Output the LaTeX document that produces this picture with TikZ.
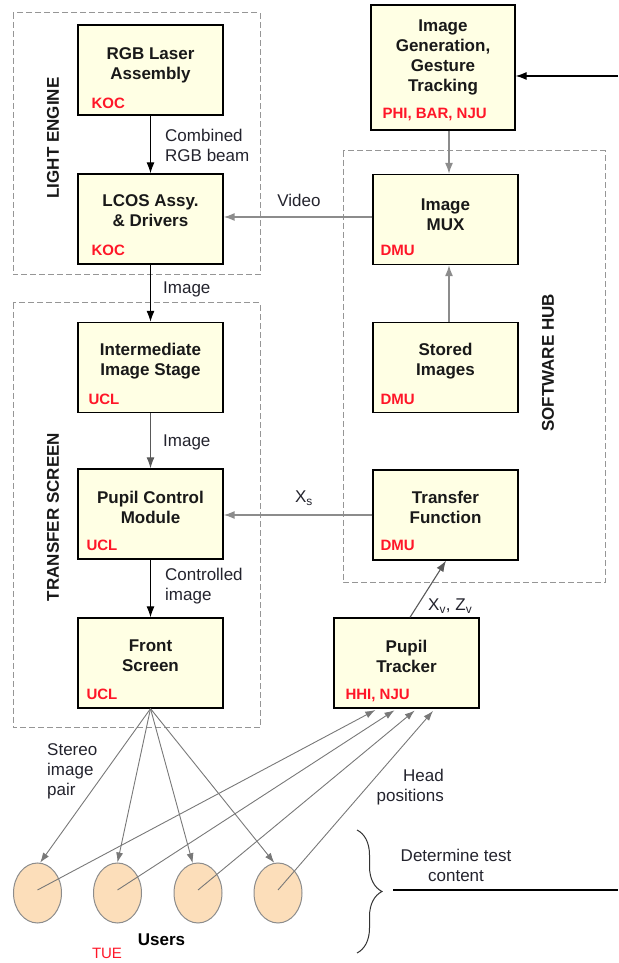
\documentclass[tikz,border=0pt]{standalone}
\usepackage{fontspec}
\setmainfont{Liberation Sans}
\usetikzlibrary{arrows.meta,decorations.pathreplacing,shapes.geometric}

\definecolor{boxfill}{RGB}{255,255,228}
\definecolor{userfill}{RGB}{252,222,186}
\definecolor{usergray}{RGB}{140,140,140}
\definecolor{orgred}{RGB}{255,22,40}
\definecolor{grpgray}{RGB}{150,150,150}
\definecolor{flowgray}{RGB}{140,140,140}
\definecolor{fangray}{RGB}{120,120,120}
\definecolor{labelc}{RGB}{35,35,45}

\begin{document}
\begin{tikzpicture}[x=1pt,y=1pt,
  blk/.style={draw=black, line width=1.3pt, fill=boxfill, minimum width=145pt,
              minimum height=90pt, inner sep=0pt},
  ttl/.style={font=\fontsize{17}{20}\selectfont\bfseries, align=center,
              text=black!90, inner sep=0pt},
  org/.style={font=\fontsize{15}{17}\selectfont\bfseries, text=orgred,
              anchor=base west, inner sep=0pt},
  lbl/.style={font=\fontsize{17}{20}\selectfont, text=labelc, inner sep=0pt},
  grp/.style={draw=grpgray, dash pattern=on 6pt off 3pt, line width=1pt},
  sec/.style={font=\fontsize{17}{20}\selectfont\bfseries, rotate=90,
              inner sep=0pt, text=black!90},
  karrow/.style={draw=black, line width=1.2pt, -{Latex[length=11pt,width=8pt]}},
  garrow/.style={draw=flowgray, line width=1.4pt, -{Latex[length=11pt,width=8pt]}},
  darrow/.style={draw=black!65, line width=1.1pt, -{Latex[length=11pt,width=8pt]}},
  fan/.style={draw=fangray, line width=0.9pt, -{Latex[length=10pt,width=7pt]}},
  user/.style={ellipse, draw=usergray, line width=1pt, fill=userfill,
               minimum width=48pt, minimum height=60pt, inner sep=0pt}
]
\useasboundingbox (0,0) rectangle (618,963);

% ---- group frames ----
\draw[grp] (13,950) rectangle (260,688);
\draw[grp] (13,660) rectangle (260,235);
\draw[grp] (343,812) rectangle (605,380);

\node[sec] (secle) at (53,825) {LIGHT ENGINE};
\node[sec] (sects) at (53,446) {TRANSFER SCREEN};
\node[sec] (secsh) at (548,600) {SOFTWARE HUB};

% ---- left column ----
\node[blk] (rgb) at (150.5,893) {};
\node[ttl] (rgbt) at ([yshift=5]rgb.center) {RGB Laser\\Assembly};
\node[org] (rgbo) at ([shift={(14,7)}]rgb.south west) {KOC};

\node[blk] (lcos) at (150.5,744) {};
\node[ttl] (lcost) at ([yshift=8]lcos.center) {LCOS Assy.\\\& Drivers};
\node[org] (lcoso) at ([shift={(14,9)}]lcos.south west) {KOC};

\node[blk] (inter) at (150.5,595.5) {};
\node[ttl] (intert) at ([yshift=6]inter.center) {Intermediate\\Image Stage};
\node[org] (intero) at ([shift={(11,9)}]inter.south west) {UCL};

\node[blk] (pcm) at (150.5,449) {};
\node[ttl] (pcmt) at ([yshift=7]pcm.center) {Pupil Control\\Module};
\node[org] (pcmo) at ([shift={(9,9)}]pcm.south west) {UCL};

\node[blk] (front) at (150.5,300) {};
\node[ttl] (frontt) at ([yshift=7]front.center) {Front\\Screen};
\node[org] (fronto) at ([shift={(9,9)}]front.south west) {UCL};

% ---- right column ----
\node[blk, minimum width=144pt, minimum height=125pt] (gen) at (443,895.5) {};
\node[ttl] (gent) at ([yshift=10]gen.center) {Image\\Generation,\\Gesture\\Tracking};
\node[org] (geno) at ([shift={(12,12)}]gen.south west) {PHI, BAR, NJU};

\node[blk] (mux) at (445.5,743.5) {};
\node[ttl] (muxt) at ([yshift=5]mux.center) {Image\\MUX};
\node[org] (muxo) at ([shift={(8,10)}]mux.south west) {DMU};

\node[blk] (stored) at (445.5,595.5) {};
\node[ttl] (storedt) at ([yshift=6]stored.center) {Stored\\Images};
\node[org] (storedo) at ([shift={(8,9)}]stored.south west) {DMU};

\node[blk] (tf) at (445.5,448) {};
\node[ttl] (tft) at ([yshift=8]tf.center) {Transfer\\Function};
\node[org] (tfo) at ([shift={(8,10)}]tf.south west) {DMU};

\node[blk] (trk) at (406.5,300) {};
\node[ttl] (trkt) at ([yshift=7]trk.center) {Pupil\\Tracker};
\node[org] (trko) at ([shift={(12,9)}]trk.south west) {HHI, NJU};

% ---- users ----
\node[user] (u1) at (37.5,70) {};
\node[user] (u2) at (117.5,70) {};
\node[user] (u3) at (198,70) {};
\node[user] (u4) at (278,70) {};
\node[font=\fontsize{17}{20}\selectfont\bfseries, inner sep=0pt] (users) at (161.5,23) {Users};
\node[font=\fontsize{15}{17}\selectfont, text=orgred, inner sep=0pt] (tue) at (107,10) {TUE};

% ---- main flow ----
\draw[karrow] (rgb.south) -- (lcos.north);
\node[lbl, anchor=west, align=left] (lblbeam) at (165,818) {Combined\\RGB beam};

\draw[karrow] (lcos.south) -- (inter.north);
\node[lbl, anchor=west] (lblimg1) at (163,674) {Image};

\draw[darrow] (inter.south) -- (pcm.north);
\node[lbl, anchor=west] (lblimg2) at (163,521) {Image};

\draw[karrow] (pcm.south) -- (front.north);
\node[lbl, anchor=west, align=left] (lblctl) at (165,377) {Controlled\\image};

% ---- software hub links ----
\coordinate (extin) at (618,887);
\draw[karrow] (extin) -- (extin -| gen.east);
\draw[garrow] (gen.south -| 449,0) -- (mux.north -| 449,0);
\draw[garrow] (stored.north -| 449,0) -- (mux.south -| 449,0);

\coordinate (vidsrc) at ([yshift=2.5]mux.west);
\draw[garrow] (vidsrc) -- (vidsrc -| lcos.east);
\node[lbl] (lblvid) at (299,763) {Video};

\draw[garrow] (tf.west) -- (tf.west -| pcm.east);
\node[lbl] (lblxs) at (304,465) {X\textsubscript{s}};

\draw[darrow] ([xshift=3.5]trk.north) -- ([xshift=0.5]tf.south);
\node[lbl, anchor=west] (lblxz) at (428,357) {X\textsubscript{v}, Z\textsubscript{v}};

% ---- stereo image fan to the users ----
\draw[fan] (front.south) -- (u1.85);
\draw[fan] (front.south) -- (u2.north);
\draw[fan] (front.south) -- (u3.100);
\draw[fan] (front.south) -- (u4.97);
\node[lbl, anchor=west, align=left] (lblstereo) at (47,192) {Stereo\\image\\pair};

% ---- head positions to the tracker ----
\draw[fan, shorten >=3pt] ([yshift=3]u1.center) -- ([xshift=-28.5]trk.south);
\draw[fan, shorten >=3pt] ([yshift=3]u2.center) -- ([xshift=-9.5]trk.south);
\draw[fan, shorten >=3pt] ([yshift=3]u3.center) -- ([xshift=10.5]trk.south);
\draw[fan, shorten >=3pt] ([yshift=3]u4.center) -- ([xshift=28.5]trk.south);
\node[lbl, anchor=east, align=right] (lblhead) at (444,176) {Head\\positions};

% ---- test content ----
\draw[black!80, line width=1pt, decorate, decoration={brace, amplitude=25pt}]
  (357,133) -- (357,10);
\coordinate (tcl) at (393,73);
\coordinate (tcr) at (618,73);
\draw[black, line width=1.2pt] (tcl) -- (tcr);
\node[lbl, align=center] (lbltest) at (456,98) {Determine test\\content};
\end{tikzpicture}
\end{document}
